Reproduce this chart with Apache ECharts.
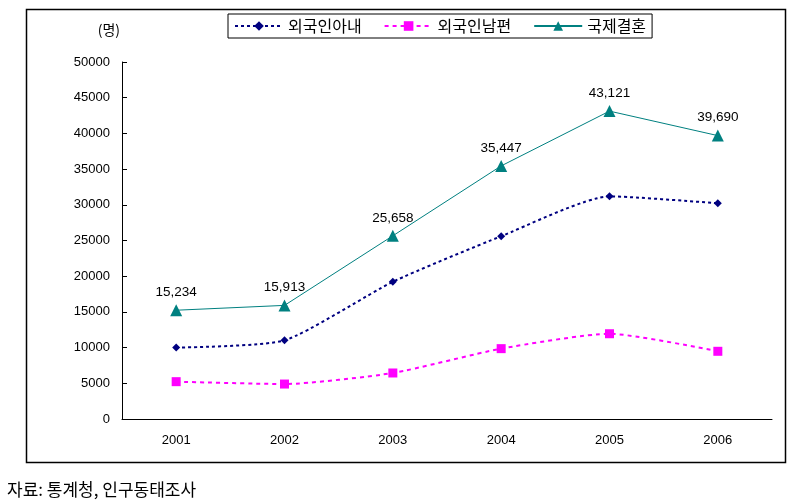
<!DOCTYPE html>
<html><head><meta charset="utf-8">
<script src="https://cdn.jsdelivr.net/npm/echarts@6/dist/echarts.min.js"></script>
<style>html,body{margin:0;padding:0;background:#fff}#c{width:797px;height:504px}</style>
</head><body><div id="c"></div>
<script>
var categories = ['2001','2002','2003','2004','2005','2006'];
var wives = [10006, 11017, 19214, 25594, 31180, 30208];
var husbands = [5228, 4896, 6444, 9853, 11941, 9482];
var total = [15234, 15913, 25658, 35447, 43121, 39690];
var seriesNames = ['외국인아내','외국인남편','국제결혼'];

var chart = echarts.init(document.getElementById('c'));
var numFont = "'Liberation Sans', Arial, sans-serif";
var krFont = "'Noto Sans CJK KR', sans-serif";
chart.setOption({
  animation: false,
  backgroundColor: '#fff',
  grid: {left: 122, right: 25, top: 62, bottom: 85},
  legend: {
    left: 228, top: 14, itemWidth: 48, itemHeight: 12, itemGap: 22,
    padding: [4, 6, 4, 6],
    borderColor: '#000', borderWidth: 1,
    textStyle: {fontFamily: krFont, fontSize: 16, color: '#000'},
    data: seriesNames
  },
  xAxis: {
    type: 'category', data: categories, boundaryGap: true,
    axisLine: {lineStyle: {color: '#000', width: 1}},
    axisTick: {inside: true, length: 5, lineStyle: {color: '#000'}},
    axisLabel: {fontFamily: numFont, fontSize: 13, color: '#000', margin: 15}
  },
  yAxis: {
    type: 'value', min: 0, max: 50000, interval: 5000,
    name: '(명)', nameLocation: 'end', nameGap: 25,
    nameTextStyle: {fontFamily: krFont, fontSize: 14, color: '#000', align: 'right', padding: [0, 2, 0, 0]},
    axisLine: {show: true, lineStyle: {color: '#000', width: 1}},
    axisTick: {show: true, inside: true, length: 5, lineStyle: {color: '#000'}},
    splitLine: {show: false},
    axisLabel: {fontFamily: numFont, fontSize: 13, color: '#000', margin: 12,
      formatter: function (v) { return String(v); }}
  },
  series: [
    {
      name: seriesNames[0], type: 'line', data: wives, smooth: 0.2,
      symbol: 'diamond', symbolSize: 8,
      lineStyle: {color: '#000080', width: 2, type: [3, 3]},
      itemStyle: {color: '#000080'}
    },
    {
      name: seriesNames[1], type: 'line', data: husbands, smooth: 0.2,
      symbol: 'rect', symbolSize: 9,
      lineStyle: {color: '#FF00FF', width: 2, type: [4, 4]},
      itemStyle: {color: '#FF00FF'}
    },
    {
      name: seriesNames[2], type: 'line', data: total,
      symbol: 'triangle', symbolSize: 12,
      lineStyle: {color: '#008080', width: 1},
      itemStyle: {color: '#008080'},
      label: {
        show: true, position: 'top', distance: 5,
        fontFamily: numFont, fontSize: 13.5, color: '#000',
        formatter: function (p) { return p.value.toLocaleString('en-US'); }
      }
    }
  ],
  graphic: [
    {type: 'rect', shape: {x: 26.5, y: 9.5, width: 759, height: 453}, style: {fill: 'none', stroke: '#000', lineWidth: 1.5}, silent: true, z: -1},
    {type: 'text', left: 7, top: 481, style: {text: '자료: 통계청, 인구동태조사', font: "17px 'Noto Sans CJK KR', sans-serif", fill: '#000'}}
  ]
});
</script></body></html>
